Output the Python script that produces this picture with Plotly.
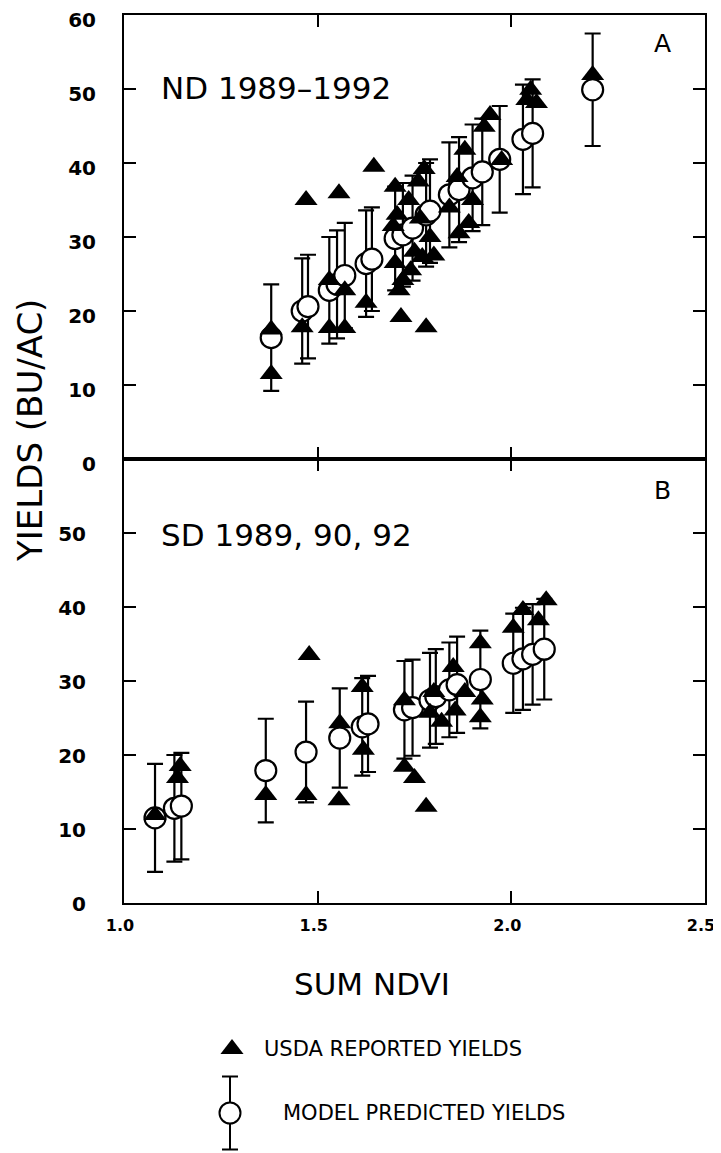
import plotly.graph_objects as go

# ---------------- data ----------------
# Panel A: North Dakota 1989-1992
nd_model_x = [1.38, 1.46, 1.475, 1.53, 1.55, 1.57, 1.625, 1.64, 1.70, 1.72, 1.745, 1.78, 1.79,
              1.84, 1.865, 1.90, 1.925, 1.97, 2.03, 2.055, 2.21]
nd_model_y = [16.4, 20.0, 20.6, 22.8, 23.6, 24.8, 26.4, 27.0, 29.8, 30.3, 31.2, 33.0, 33.5,
              35.7, 36.4, 38.0, 38.8, 40.5, 43.2, 44.0, 49.9]
nd_model_err = [7.2, 7.1, 7.0, 7.2, 7.3, 7.1, 7.2, 7.0, 7.0, 7.0, 7.1, 7.0, 7.0,
                7.1, 7.1, 7.2, 7.2, 7.2, 7.4, 7.3, 7.6]

nd_usda_x = [1.38, 1.38, 1.46, 1.47, 1.53, 1.53, 1.555, 1.57, 1.57, 1.625, 1.645, 1.70, 1.70,
             1.705, 1.71, 1.715, 1.72, 1.735, 1.75, 1.76, 1.77, 1.775, 1.78, 1.79, 1.80, 1.84,
             1.86, 1.865, 1.88, 1.89, 1.90, 1.93, 1.945, 1.975, 2.04, 2.05, 2.065, 2.21,
             1.695, 1.74, 1.765]
nd_usda_y = [17.5, 11.5, 17.8, 35.0, 24.2, 17.7, 35.9, 22.8, 17.7, 21.1, 39.5, 36.8, 26.5,
             33.0, 22.8, 19.2, 24.2, 35.0, 28.0, 37.5, 27.3, 39.2, 17.8, 30.0, 27.5, 34.0,
             38.1, 30.5, 41.8, 31.9, 35.0, 44.9, 46.5, 40.4, 48.5, 49.9, 48.1, 51.9,
             31.5, 25.5, 32.5]

# Panel B: South Dakota 1989, 90, 92
sd_model_x = [1.08, 1.13, 1.148, 1.366, 1.47, 1.557, 1.615, 1.63, 1.724, 1.745, 1.79, 1.805,
              1.84, 1.86, 1.92, 2.005, 2.03, 2.055, 2.085]
sd_model_y = [11.5, 12.8, 13.1, 17.9, 20.4, 22.3, 23.8, 24.2, 26.1, 26.4, 27.4, 27.9,
              28.8, 29.5, 30.2, 32.4, 33.0, 33.6, 34.3]
sd_model_err = [7.3, 7.2, 7.2, 7.0, 6.8, 6.7, 6.6, 6.5, 6.6, 6.5, 6.4, 6.4,
                6.4, 6.5, 6.6, 6.7, 6.9, 6.8, 6.8]

sd_usda_x = [1.08, 1.138, 1.145, 1.366, 1.47, 1.478, 1.557, 1.555, 1.615, 1.618, 1.724, 1.724,
             1.75, 1.78, 1.79, 1.80, 1.82, 1.85, 1.855, 1.88, 1.92, 1.92, 1.925, 2.005, 2.03,
             2.07, 2.09]
sd_usda_y = [11.9, 16.9, 18.5, 14.6, 14.6, 33.5, 24.3, 13.9, 29.2, 20.7, 27.4, 18.4,
             16.9, 13.0, 25.7, 28.5, 24.5, 31.9, 26.0, 28.5, 35.1, 25.1, 27.5, 37.2, 39.6,
             38.2, 40.9]

x_ticks = [1.0, 1.5, 2.0, 2.5]
x_tick_text = ["1.0", "1.5", "2.0", "2.5"]
y_ticks_top = [0, 10, 20, 30, 40, 50, 60]
y_ticks_bottom = [0, 10, 20, 30, 40, 50]

panel_labels = ["A", "B"]
panel_titles = ["ND 1989\u20131992", "SD 1989, 90, 92"]
legend_labels = ["USDA REPORTED YIELDS", "MODEL PREDICTED YIELDS"]
legend_rows = [0, 1]
legend_err = [0.57]

# ---------------- layout geometry ----------------
# The page body has an 8 px margin, so the figure starts at (8, 8) on the page.
OFF = 8
W, H = 721 - OFF, 1153 - OFF
PAGE_LEFT, PAGE_RIGHT, PAGE_TOP = 124, 705, 15
L = PAGE_LEFT - OFF
R = W - (PAGE_RIGHT - OFF)
T = PAGE_TOP - OFF
B = 0
PW, PH = W - L - R, H - T - B


def px(xp):
    """page x pixel -> paper fraction"""
    return (xp - OFF - L) / PW


def py(yp):
    """page y pixel -> paper fraction"""
    return (H - B - (yp - OFF)) / PH


BLACK = "black"
TXT = "DejaVu Sans"

fig = go.Figure()


def model_trace(x, y, err, xa, ya):
    return go.Scatter(
        x=x, y=y, mode="markers", xaxis=xa, yaxis=ya, showlegend=False,
        marker=dict(symbol="circle", size=21, color="white",
                    line=dict(color=BLACK, width=2.2)),
        error_y=dict(type="data", array=err, visible=True, color=BLACK,
                     thickness=2.2, width=8),
    )


def usda_trace(x, y, xa, ya):
    return go.Scatter(
        x=x, y=y, mode="markers", xaxis=xa, yaxis=ya, showlegend=False,
        marker=dict(symbol="triangle-up", size=20, color=BLACK,
                    line=dict(color=BLACK, width=0)),
    )


# Panel A (top)
fig.add_trace(model_trace(nd_model_x, nd_model_y, nd_model_err, "x2", "y2"))
fig.add_trace(usda_trace(nd_usda_x, nd_usda_y, "x2", "y2"))
# Panel B (bottom)
fig.add_trace(model_trace(sd_model_x, sd_model_y, sd_model_err, "x", "y"))
fig.add_trace(usda_trace(sd_usda_x, sd_usda_y, "x", "y"))

# Legend keys (hidden axis x3/y3)
fig.add_trace(go.Scatter(
    x=[px(232)], y=[legend_rows[0]], mode="markers", xaxis="x3", yaxis="y3",
    showlegend=False,
    marker=dict(symbol="triangle-up", size=20, color=BLACK)))
fig.add_trace(go.Scatter(
    x=[px(230)], y=[legend_rows[1]], mode="markers", xaxis="x3", yaxis="y3",
    showlegend=False,
    marker=dict(symbol="circle", size=21, color="white",
                line=dict(color=BLACK, width=2)),
    error_y=dict(type="data", array=legend_err, visible=True, color=BLACK,
                 thickness=2, width=8)))

axis_common = dict(showgrid=False, zeroline=False, showline=True, linecolor=BLACK,
                   linewidth=2, mirror="ticks", ticks="inside", ticklen=12,
                   tickwidth=2, tickcolor=BLACK, automargin=False,
                   ticklabeloverflow="allow")
xtick_font = dict(family=TXT, size=16, color=BLACK, weight="bold")
ytick_font = dict(family=TXT, size=20, color=BLACK, weight="bold")

split = py(459)
# legend axis: row value v sits at page y = 1049 + 64 * v
leg_top_v = (925 - 1049) / 64
leg_bot_v = (1153 - 1049) / 64

fig.update_layout(
    template="none",
    width=W, height=H,
    margin=dict(l=L, r=R, t=T, b=B),
    paper_bgcolor="white", plot_bgcolor="white",
    showlegend=False,
    xaxis=dict(**axis_common, domain=[0, 1], range=[0.9999, 2.5001], tickvals=x_ticks,
               ticktext=x_tick_text, tickfont=xtick_font, anchor="y",
               ticklabelstandoff=7, ticklabelshift=-4),
    yaxis=dict(**axis_common, domain=[py(903), split], range=[0, 60],
               tickvals=y_ticks_bottom, tickfont=ytick_font, anchor="x",
               ticklabelstandoff=32, ticklabelshift=1),
    xaxis2=dict(**axis_common, domain=[0, 1], range=[0.9999, 2.5001], tickvals=x_ticks,
                showticklabels=False, anchor="y2", matches="x"),
    yaxis2=dict(**axis_common, domain=[split, 1], range=[0, 60],
                tickvals=y_ticks_top, tickfont=ytick_font, anchor="x2",
                ticklabelstandoff=22, ticklabelshift=5),
    xaxis3=dict(domain=[0, 1], range=[0, 1], visible=False, anchor="y3",
                automargin=False),
    yaxis3=dict(domain=[0, py(925)], range=[leg_bot_v, leg_top_v], visible=False,
                anchor="x3", automargin=False),
)

ann = []
# panel texts
ann.append(dict(text=panel_titles[0], x=1.09, y=50.1, xref="x2", yref="y2",
                xanchor="left", yanchor="middle", showarrow=False,
                font=dict(family=TXT, size=31, color=BLACK)))
ann.append(dict(text=panel_labels[0], x=2.39, y=56.1, xref="x2", yref="y2",
                xanchor="center", yanchor="middle", showarrow=False,
                font=dict(family=TXT, size=25, color=BLACK)))
ann.append(dict(text=panel_titles[1], x=1.09, y=49.7, xref="x", yref="y",
                xanchor="left", yanchor="middle", showarrow=False,
                font=dict(family=TXT, size=31, color=BLACK)))
ann.append(dict(text=panel_labels[1], x=2.39, y=55.7, xref="x", yref="y",
                xanchor="center", yanchor="middle", showarrow=False,
                font=dict(family=TXT, size=25, color=BLACK)))
# axis titles
ann.append(dict(text="YIELDS (BU/AC)", x=px(30), y=py(431), xref="paper",
                yref="paper", xanchor="center", yanchor="middle", textangle=-90,
                showarrow=False, font=dict(family=TXT, size=34, color=BLACK)))
ann.append(dict(text="SUM NDVI", x=px(372), y=py(984), xref="paper", yref="paper",
                xanchor="center", yanchor="middle", showarrow=False,
                font=dict(family=TXT, size=31, color=BLACK)))
# legend texts
ann.append(dict(text=legend_labels[0], x=px(262), y=legend_rows[0], xref="x3",
                yref="y3", xanchor="left", yanchor="middle", showarrow=False,
                font=dict(family=TXT, size=21, color=BLACK)))
ann.append(dict(text=legend_labels[1], x=px(281), y=legend_rows[1], xref="x3",
                yref="y3", xanchor="left", yanchor="middle", showarrow=False,
                font=dict(family=TXT, size=21, color=BLACK)))
fig.update_layout(annotations=ann)

fig.write_html("out.html")
